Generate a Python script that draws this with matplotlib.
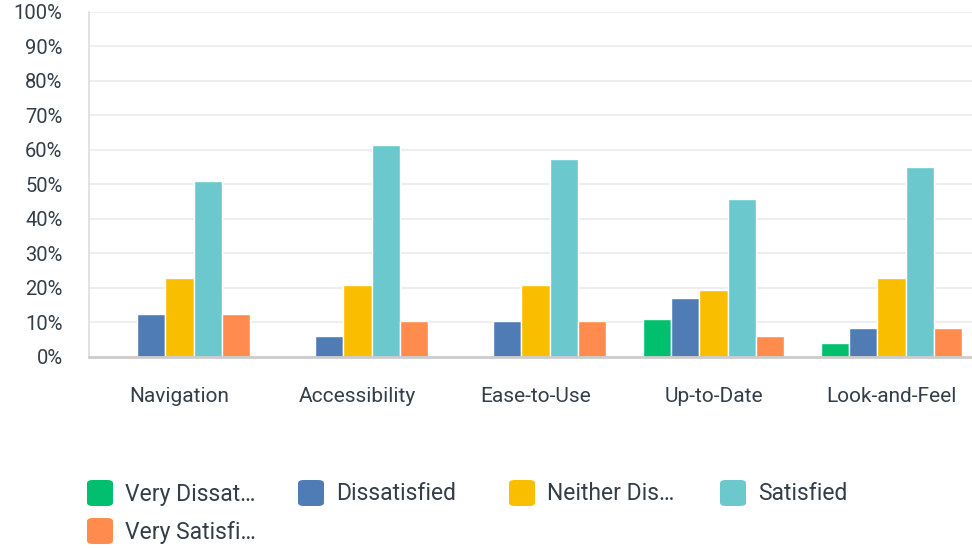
import numpy as np
import matplotlib.pyplot as plt
from matplotlib.patches import FancyBboxPatch

plt.rcParams['font.family'] = ['Roboto', 'DejaVu Sans']

categories = ['Navigation', 'Accessibility', 'Ease-to-Use', 'Up-to-Date', 'Look-and-Feel']
series_names = ['Very Dissat…', 'Dissatisfied', 'Neither Dis…', 'Satisfied', 'Very Satisfi…']
very_dissatisfied = [0.0, 0.0, 0.0, 10.9, 4.0]
dissatisfied = [12.4, 6.0, 10.3, 17.0, 8.3]
neither = [22.8, 20.8, 20.8, 19.3, 22.8]
satisfied = [50.9, 61.4, 57.3, 45.7, 55.0]
very_satisfied = [12.4, 10.3, 10.3, 6.0, 8.3]
colors = ['#00bf6f', '#507cb6', '#f9be00', '#6bc8cd', '#ff8b4f']

series = [very_dissatisfied, dissatisfied, neither, satisfied, very_satisfied]
text_color = '#333e48'

fig = plt.figure(figsize=(9.72, 5.48), dpi=100)
ax = fig.add_axes([89 / 972, 1 - 356.7 / 548, 1 - 89 / 972, 345 / 548])

x = np.arange(len(categories))
width = 0.159
for i, vals in enumerate(series):
    ax.bar(x + (i - 2) * width, vals, width, color=colors[i],
           edgecolor='white', linewidth=1, zorder=3)

# one category every 178 px, first centre at 179.5 px
ax.set_xlim(-90.5 / 178, (972 - 179.5) / 178)
ax.set_ylim(0, 100)
ax.set_yticks(np.arange(0, 101, 10))
ax.set_yticklabels([f'{v}%' for v in range(0, 101, 10)])
ax.set_xticks(x)
ax.set_xticklabels(categories)
ax.tick_params(axis='y', length=0, pad=19, labelsize=14.5, labelcolor=text_color)
ax.tick_params(axis='x', length=0, pad=22, labelsize=15, labelcolor=text_color)

ax.grid(axis='y', color='#eeeeee', linewidth=1.5, zorder=0)
for side in ['top', 'right']:
    ax.spines[side].set_visible(False)
ax.spines['left'].set_color('#dddddd')
ax.spines['left'].set_linewidth(1.2)
ax.spines['bottom'].set_color('#cccccc')
ax.spines['bottom'].set_linewidth(2)
ax.spines['bottom'].set_zorder(4)

# legend with rounded swatches, four per row
W, H = 972, 548
for i, name in enumerate(series_names):
    col, row = i % 4, i // 4
    px = 87 + col * 211
    py = 480 + row * 38
    fig.patches.append(FancyBboxPatch(
        (px / W, 1 - (py + 26) / H), 26 / W, 26 / H,
        boxstyle='round,pad=0,rounding_size=0.006', transform=fig.transFigure,
        facecolor=colors[i], edgecolor='none'))
    fig.text((px + 38) / W, 1 - (py + 14) / H, name, fontsize=16.5,
             color=text_color, va='center', ha='left')

fig.savefig('out.png', dpi=100, facecolor='white')
